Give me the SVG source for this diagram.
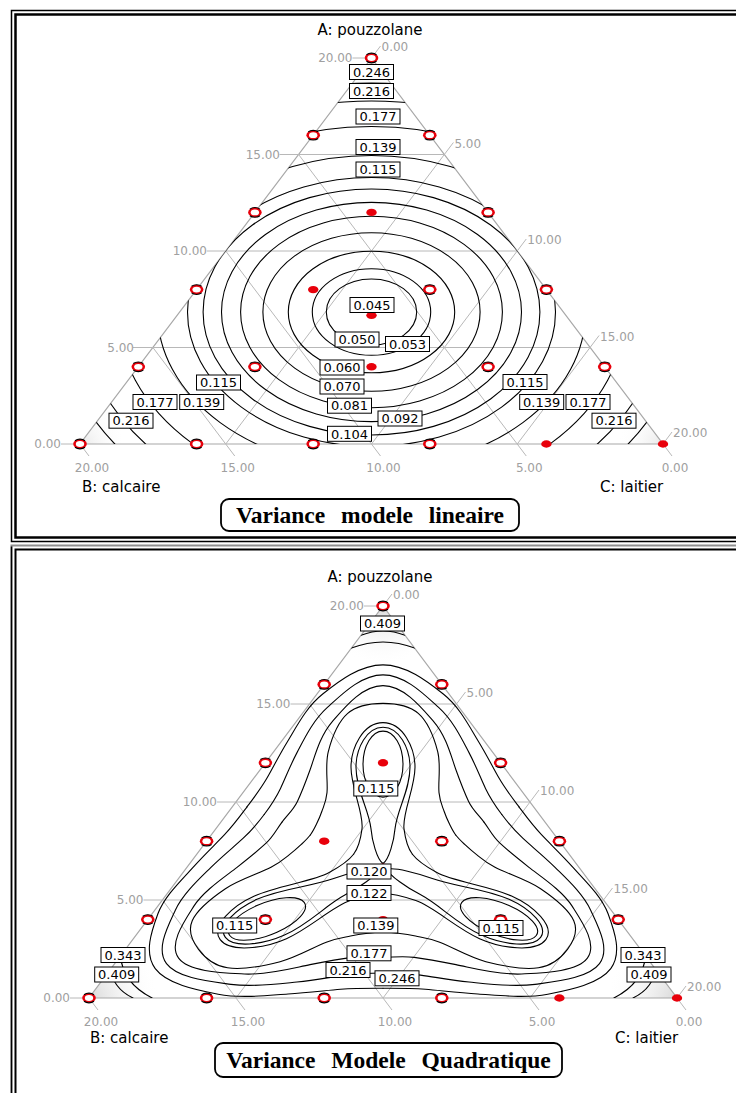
<svg xmlns="http://www.w3.org/2000/svg" width="736" height="1093" viewBox="0 0 736 1093">
<defs>
<style>
.grid{stroke:#b8b8b8;stroke-width:1;fill:none}
.edge{stroke:#a8a8a8;stroke-width:1.2;fill:none}
.tick{font-family:"DejaVu Sans",sans-serif;font-size:12px;fill:#a0a0a0}
.axt{font-family:"DejaVu Sans",sans-serif;font-size:15px;fill:#000}
.ct{stroke:#000;stroke-width:1.1;fill:none;stroke-linecap:round}
.cq{stroke:#000;stroke-width:1.1;fill:none;stroke-linecap:round;vector-effect:non-scaling-stroke}
.lb rect{fill:#fff;stroke:#000;stroke-width:1}
.lb text{font-family:"DejaVu Sans",sans-serif;font-size:13px;fill:#000;text-anchor:middle}
.ttl{font-family:"Liberation Serif","Times New Roman",serif;font-weight:bold;font-size:23.5px;fill:#000;text-anchor:middle;word-spacing:10px}
.tbox{fill:#fff;stroke:#000;stroke-width:1.8}
.fr1{fill:none;stroke:#000;stroke-width:1.5}
.fr2{fill:none;stroke:#000;stroke-width:2.5}
</style>
<clipPath id="clipT"><polygon points="80,444 663,444 371.5,58"/></clipPath>
<clipPath id="clipB"><polygon points="89,998 677,998 383,606"/></clipPath>
<radialGradient id="shade"><stop offset="0" stop-color="#d8d8d8"/><stop offset="1" stop-color="#ffffff" stop-opacity="0"/></radialGradient>
<g id="o"><ellipse rx="6.8" ry="4.8" fill="#e8000b"/><ellipse rx="4.2" ry="2.9" fill="#fff"/><path d="M-5,-3.3 A6.8,4.8 0 0 1 5,-3.3 M-5,3.3 A6.8,4.8 0 0 0 5,3.3" fill="none" stroke="#000" stroke-width="1.1"/></g>
<ellipse id="f" rx="5.2" ry="3.7" fill="#e8000b"/>
<!-- quadratic-model contour pieces, drawn in equilateral coordinates around the centroid (one 120 degree sector each) -->
<path id="q246" class="cq" d="M-136,-78.5 C-129.15,-90.37 -122.2,-102 -116,-116 C-109.8,-130 -103.6,-146.3 -95,-164.5 C-86.4,-182.7 -76.8,-208.1 -60.3,-225.1 C-43.8,-242.1 -22.95,-263 0,-263 C22.95,-263 43.8,-242.1 60.3,-225.1 C76.8,-208.1 86.4,-182.7 95,-164.5 C103.6,-146.3 109.8,-130 116,-116 C122.2,-102 129.15,-90.37 136,-78.5"/>
<path id="q216" class="cq" d="M-118.8,-68.6 C-112.81,-78.97 -107.34,-89.45 -102.5,-102.5 C-97.66,-115.55 -93.17,-131.4 -86,-149 C-78.83,-166.6 -70.36,-190.3 -55.6,-207.7 C-40.84,-225.1 -21.8,-250 0,-250 C21.8,-250 40.84,-225.1 55.6,-207.7 C70.36,-190.3 78.83,-166.6 86,-149 C93.17,-131.4 97.66,-115.55 102.5,-102.5 C107.34,-89.45 112.81,-78.97 118.8,-68.6"/>
<path id="q177" class="cq" d="M-101.2,-58.4 C-96.1,-67.22 -89.62,-74.68 -85.6,-85.6 C-81.58,-96.52 -77.78,-109.2 -73,-126.4 C-68.22,-143.6 -63.34,-170.4 -50.7,-189.3 C-38.06,-208.2 -20.6,-236 0,-236 C20.6,-236 38.06,-208.2 50.7,-189.3 C63.34,-170.4 68.22,-143.6 73,-126.4 C77.78,-109.2 81.58,-96.52 85.6,-85.6 C89.62,-74.68 96.1,-67.22 101.2,-58.4"/>
<path id="q139" class="cq" d="M-72.7,-42 C-70.17,-46.36 -68.53,-50.77 -66.6,-55.9 C-64.67,-61.03 -62.87,-65.95 -61.1,-72.8 C-59.33,-79.65 -57.07,-84.07 -56,-97 C-54.93,-109.93 -58.15,-133.25 -54.7,-150.4 C-51.25,-167.55 -44.42,-189.47 -35.3,-199.9 C-26.18,-210.33 -11.77,-213 0,-213 C11.77,-213 26.18,-210.33 35.3,-199.9 C44.42,-189.47 51.25,-167.55 54.7,-150.4 C58.15,-133.25 54.93,-109.93 56,-97 C57.07,-84.07 59.33,-79.65 61.1,-72.8 C62.87,-65.95 64.67,-61.03 66.6,-55.9 C68.53,-50.77 70.17,-46.36 72.7,-42"/>
<path id="q122" class="cq" d="M-29.4,-17 C-23.9,-26.5 -22.1,-39 -21,-50 C-19,-70 -32,-103 -32,-130 C-32,-155 -20,-188 0,-188 C20,-188 32,-155 32,-130 C32,-103 19,-70 21,-50 C22.1,-39 23.9,-26.5 29.4,-17"/>
<path id="q120" class="cq" d="M0,-5 C6,-10 11,-35 12,-50 C14,-75 27,-100 27,-130 C27,-155 16,-182 0,-182 C-16,-182 -27,-155 -27,-130 C-27,-100 -14,-75 -12,-50 C-11,-35 -6,-10 0,-5 Z"/>
<ellipse id="q115" class="cq" cx="0" cy="-134" rx="20" ry="43"/>
<path id="q343" class="cq" d="M-31.6,-284.8 Q0,-300.6 31.6,-284.8"/>
<path id="q409" class="cq" d="M-22,-301.4 Q0,-312.6 22,-301.4"/>
</defs>
<rect width="736" height="1093" fill="#fff"/>

<g id="frames">
<rect x="11.5" y="10.5" width="760" height="531" class="fr1"/>
<rect x="15.5" y="14.5" width="760" height="523" class="fr2"/>
<path d="M11.5,1093V545.5H736" fill="none" stroke="#909090" stroke-width="2"/>
<path d="M11.5,1093V546.5" fill="none" stroke="#000" stroke-width="1.5"/>
<path d="M15.5,1093V549.5H736" fill="none" stroke="#000" stroke-width="2"/>
</g>

<!-- ================= TOP PANEL ================= -->
<g id="top-shade" clip-path="url(#clipT)">
<circle cx="80" cy="444" r="45" fill="url(#shade)" opacity="0.6"/>
<circle cx="663" cy="444" r="45" fill="url(#shade)" opacity="0.6"/>
<circle cx="371.5" cy="58" r="40" fill="url(#shade)" opacity="0.6"/>
</g>
<g id="top-grid">
<polygon points="80,444 663,444 371.5,58" class="edge"/>
<path class="grid" d="M133,347.5H590.1 M206.75,251H517.25 M279.6,154.5H444.4 M61,444H80 M352.5,58H371.5
M225.75,444L453.4,142.5 M371.5,444L526.25,239 M517.25,444L599.1,335.5 M371.5,58L380.5,46 M663,444L672,432
M298.6,154.5L526.25,456 M225.75,251L380.5,456 M152.9,347.5L234.75,456 M663,444L672,456 M80,444L89,456"/>
</g>
<g id="top-ticks" class="tick">
<text x="61" y="448.4" text-anchor="end">0.00</text>
<text x="134" y="351.9" text-anchor="end">5.00</text>
<text x="207" y="255.4" text-anchor="end">10.00</text>
<text x="280" y="158.9" text-anchor="end">15.00</text>
<text x="352.5" y="62.4" text-anchor="end">20.00</text>
<text x="381.5" y="51">0.00</text>
<text x="454.4" y="147.5">5.00</text>
<text x="527.25" y="244">10.00</text>
<text x="600.1" y="340.5">15.00</text>
<text x="673" y="437">20.00</text>
<text x="92" y="472" text-anchor="middle">20.00</text>
<text x="237.75" y="472" text-anchor="middle">15.00</text>
<text x="383.5" y="472" text-anchor="middle">10.00</text>
<text x="529.25" y="472" text-anchor="middle">5.00</text>
<text x="675" y="472" text-anchor="middle">0.00</text>
</g>
<g id="top-axes" class="axt">
<text x="370" y="35" text-anchor="middle">A: pouzzolane</text>
<text x="82" y="492">B: calcaire</text>
<text x="600" y="492">C: laitier</text>
</g>
<g id="top-contours" clip-path="url(#clipT)" class="ct">
<ellipse cx="371.5" cy="306" rx="10" ry="6"/>
<ellipse cx="371.5" cy="312" rx="45.2" ry="33"/>
<ellipse cx="371.5" cy="312" rx="59.2" ry="43.3"/>
<ellipse cx="371.5" cy="312" rx="83.2" ry="60.8"/>
<ellipse cx="371.5" cy="312" rx="108.6" ry="79.3"/>
<ellipse cx="371.5" cy="312" rx="130.9" ry="95.7"/>
<ellipse cx="371.5" cy="312" rx="150" ry="109.6"/>
<ellipse cx="371.5" cy="312" rx="168.4" ry="123"/>
<ellipse cx="371.5" cy="312" rx="184" ry="134.5"/>
<ellipse cx="371.5" cy="312" rx="214" ry="156.5"/>
<ellipse cx="371.5" cy="312" rx="254" ry="185.5"/>
<ellipse cx="371.5" cy="312" rx="289.5" ry="211"/>
<ellipse cx="371.5" cy="312" rx="314" ry="229"/>
</g>
<g id="top-points">
<use href="#o" x="371.5" y="58"/>
<use href="#o" x="313.2" y="135.2"/><use href="#o" x="429.8" y="135.2"/>
<use href="#o" x="254.9" y="212.4"/><use href="#f" x="371.5" y="212.4"/><use href="#o" x="488.1" y="212.4"/>
<use href="#o" x="196.6" y="289.6"/><use href="#f" x="313.2" y="289.6"/><use href="#o" x="429.8" y="289.6"/><use href="#o" x="546.4" y="289.6"/>
<use href="#f" x="371.5" y="315.3"/>
<use href="#o" x="138.3" y="366.8"/><use href="#o" x="254.9" y="366.8"/><use href="#f" x="371.5" y="366.8"/><use href="#o" x="488.1" y="366.8"/><use href="#o" x="604.7" y="366.8"/>
<use href="#o" x="80" y="444"/><use href="#o" x="196.6" y="444"/><use href="#o" x="313.2" y="444"/><use href="#o" x="429.8" y="444"/><use href="#f" x="546.4" y="444"/><use href="#f" x="663" y="444"/>
</g>
<g id="top-labels" class="lb">
<g transform="translate(371.5,72)"><rect x="-22" y="-7.5" width="44" height="15"/><text y="4.7">0.246</text></g>
<g transform="translate(371.5,91)"><rect x="-22" y="-7.5" width="44" height="15"/><text y="4.7">0.216</text></g>
<g transform="translate(378,116.5)"><rect x="-22" y="-7.5" width="44" height="15"/><text y="4.7">0.177</text></g>
<g transform="translate(378,147)"><rect x="-22" y="-7.5" width="44" height="15"/><text y="4.7">0.139</text></g>
<g transform="translate(378,169.5)"><rect x="-22" y="-7.5" width="44" height="15"/><text y="4.7">0.115</text></g>
<g transform="translate(372,305)"><rect x="-22" y="-7.5" width="44" height="15"/><text y="4.7">0.045</text></g>
<g transform="translate(357,339.5)"><rect x="-22" y="-7.5" width="44" height="15"/><text y="4.7">0.050</text></g>
<g transform="translate(407.5,344)"><rect x="-22" y="-7.5" width="44" height="15"/><text y="4.7">0.053</text></g>
<g transform="translate(342,367.5)"><rect x="-22" y="-7.5" width="44" height="15"/><text y="4.7">0.060</text></g>
<g transform="translate(342,386.5)"><rect x="-22" y="-7.5" width="44" height="15"/><text y="4.7">0.070</text></g>
<g transform="translate(349.5,405.7)"><rect x="-22" y="-7.5" width="44" height="15"/><text y="4.7">0.081</text></g>
<g transform="translate(400,418.5)"><rect x="-22" y="-7.5" width="44" height="15"/><text y="4.7">0.092</text></g>
<g transform="translate(349.5,433.8)"><rect x="-22" y="-7.5" width="44" height="15"/><text y="4.7">0.104</text></g>
<g transform="translate(218.5,382.5)"><rect x="-22" y="-7.5" width="44" height="15"/><text y="4.7">0.115</text></g>
<g transform="translate(201.7,402)"><rect x="-22" y="-7.5" width="44" height="15"/><text y="4.7">0.139</text></g>
<g transform="translate(155,402)"><rect x="-22" y="-7.5" width="44" height="15"/><text y="4.7">0.177</text></g>
<g transform="translate(131,420.7)"><rect x="-22" y="-7.5" width="44" height="15"/><text y="4.7">0.216</text></g>
<g transform="translate(525,382)"><rect x="-22" y="-7.5" width="44" height="15"/><text y="4.7">0.115</text></g>
<g transform="translate(541.7,402)"><rect x="-22" y="-7.5" width="44" height="15"/><text y="4.7">0.139</text></g>
<g transform="translate(588,402)"><rect x="-22" y="-7.5" width="44" height="15"/><text y="4.7">0.177</text></g>
<g transform="translate(614,420.7)"><rect x="-22" y="-7.5" width="44" height="15"/><text y="4.7">0.216</text></g>
</g>
<g id="top-title">
<rect x="221" y="499" width="298" height="32" rx="8" class="tbox"/>
<text x="370" y="523" class="ttl">Variance modele lineaire</text>
</g>

<!-- ================= BOTTOM PANEL ================= -->
<g id="bot-shade" clip-path="url(#clipB)">
<circle cx="89" cy="998" r="70" fill="url(#shade)"/>
<circle cx="677" cy="998" r="70" fill="url(#shade)"/>
<circle cx="383" cy="606" r="60" fill="url(#shade)"/>
</g>
<g id="bot-grid">
<polygon points="89,998 677,998 383,606" class="edge"/>
<path class="grid" d="M143.5,900H603.5 M217,802H530 M290.5,704H456.5 M70,998H89 M364,606H383
M236,998L465.5,692 M383,998L539,790 M530,998L612.5,888 M383,606L392,594 M677,998L686,986
M309.5,704L539,1010 M236,802L392,1010 M162.5,900L245,1010 M677,998L686,1010 M89,998L98,1010"/>
</g>
<g id="bot-ticks" class="tick">
<text x="70" y="1002.4" text-anchor="end">0.00</text>
<text x="143.5" y="904.4" text-anchor="end">5.00</text>
<text x="217" y="806.4" text-anchor="end">10.00</text>
<text x="290.5" y="708.4" text-anchor="end">15.00</text>
<text x="364" y="610.4" text-anchor="end">20.00</text>
<text x="393" y="599">0.00</text>
<text x="466.5" y="697">5.00</text>
<text x="540" y="795">10.00</text>
<text x="613.5" y="893">15.00</text>
<text x="687" y="991">20.00</text>
<text x="101" y="1026" text-anchor="middle">20.00</text>
<text x="248" y="1026" text-anchor="middle">15.00</text>
<text x="395" y="1026" text-anchor="middle">10.00</text>
<text x="542" y="1026" text-anchor="middle">5.00</text>
<text x="689" y="1026" text-anchor="middle">0.00</text>
</g>
<g id="bot-axes" class="axt">
<text x="380" y="582" text-anchor="middle">A: pouzzolane</text>
<text x="90" y="1043">B: calcaire</text>
<text x="615" y="1043">C: laitier</text>
</g>
<g id="bot-contours" clip-path="url(#clipB)">
<g transform="matrix(1 0 0 0.7698 383 867.33)">
<use href="#q246"/><use href="#q246" transform="rotate(120)"/><use href="#q246" transform="rotate(240)"/>
<use href="#q216"/><use href="#q216" transform="rotate(120)"/><use href="#q216" transform="rotate(240)"/>
<use href="#q177"/><use href="#q177" transform="rotate(120)"/><use href="#q177" transform="rotate(240)"/>
<use href="#q139"/><use href="#q139" transform="rotate(120)"/><use href="#q139" transform="rotate(240)"/>
<use href="#q122"/><use href="#q122" transform="rotate(120)"/><use href="#q122" transform="rotate(240)"/>
<use href="#q120"/><use href="#q120" transform="rotate(120)"/><use href="#q120" transform="rotate(240)"/>
<use href="#q115"/><use href="#q115" transform="rotate(120)"/><use href="#q115" transform="rotate(240)"/>
<use href="#q343"/><use href="#q343" transform="rotate(120)"/><use href="#q343" transform="rotate(240)"/>
<use href="#q409"/><use href="#q409" transform="rotate(120)"/><use href="#q409" transform="rotate(240)"/>
</g>
</g>
<g id="bot-points">
<use href="#o" x="383" y="606"/>
<use href="#o" x="324.2" y="684.4"/><use href="#o" x="441.8" y="684.4"/>
<use href="#o" x="265.4" y="762.8"/><use href="#f" x="383" y="762.8"/><use href="#o" x="500.6" y="762.8"/>
<use href="#o" x="206.6" y="841.2"/><use href="#f" x="324.2" y="841.2"/><use href="#o" x="441.8" y="841.2"/><use href="#o" x="559.4" y="841.2"/>
<use href="#f" x="383" y="867.3"/>
<use href="#o" x="147.8" y="919.6"/><use href="#o" x="265.4" y="919.6"/><use href="#f" x="383" y="919.6"/><use href="#o" x="500.6" y="919.6"/><use href="#o" x="618.2" y="919.6"/>
<use href="#o" x="89" y="998"/><use href="#o" x="206.6" y="998"/><use href="#o" x="324.2" y="998"/><use href="#o" x="441.8" y="998"/><use href="#f" x="559.4" y="998"/><use href="#f" x="677" y="998"/>
</g>
<g id="bot-labels" class="lb">
<g transform="translate(382.5,623.5)"><rect x="-22" y="-7.5" width="44" height="15"/><text y="4.7">0.409</text></g>
<g transform="translate(375.8,788.5)"><rect x="-22" y="-7.5" width="44" height="15"/><text y="4.7">0.115</text></g>
<g transform="translate(369,871.5)"><rect x="-22" y="-7.5" width="44" height="15"/><text y="4.7">0.120</text></g>
<g transform="translate(369,893)"><rect x="-22" y="-7.5" width="44" height="15"/><text y="4.7">0.122</text></g>
<g transform="translate(375.8,925.5)"><rect x="-22" y="-7.5" width="44" height="15"/><text y="4.7">0.139</text></g>
<g transform="translate(234.7,925.5)"><rect x="-22" y="-7.5" width="44" height="15"/><text y="4.7">0.115</text></g>
<g transform="translate(501,928)"><rect x="-22" y="-7.5" width="44" height="15"/><text y="4.7">0.115</text></g>
<g transform="translate(369,953.3)"><rect x="-22" y="-7.5" width="44" height="15"/><text y="4.7">0.177</text></g>
<g transform="translate(348,970)"><rect x="-22" y="-7.5" width="44" height="15"/><text y="4.7">0.216</text></g>
<g transform="translate(397,978.3)"><rect x="-22" y="-7.5" width="44" height="15"/><text y="4.7">0.246</text></g>
<g transform="translate(123,955)"><rect x="-22" y="-7.5" width="44" height="15"/><text y="4.7">0.343</text></g>
<g transform="translate(116.7,974.5)"><rect x="-22" y="-7.5" width="44" height="15"/><text y="4.7">0.409</text></g>
<g transform="translate(643,955)"><rect x="-22" y="-7.5" width="44" height="15"/><text y="4.7">0.343</text></g>
<g transform="translate(649,974.5)"><rect x="-22" y="-7.5" width="44" height="15"/><text y="4.7">0.409</text></g>
</g>
<g id="bot-title">
<rect x="215" y="1043" width="347" height="34" rx="8" class="tbox"/>
<text x="388.5" y="1068" class="ttl">Variance Modele Quadratique</text>
</g>
</svg>
